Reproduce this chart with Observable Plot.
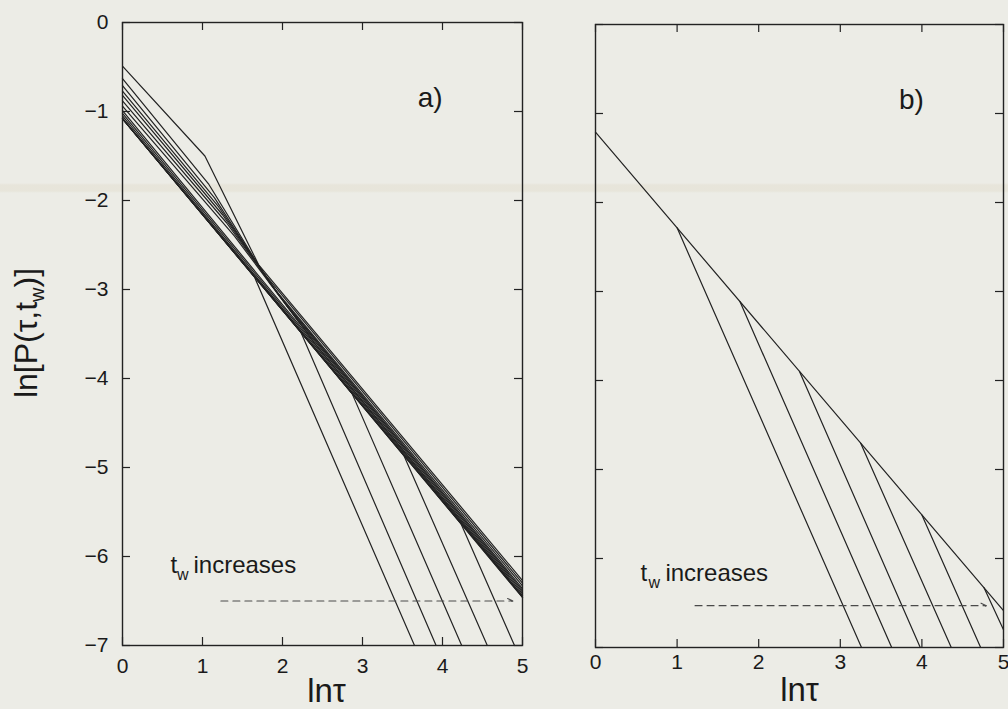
<!DOCTYPE html>
<html><head><meta charset="utf-8">
<script src="https://cdn.jsdelivr.net/npm/d3@7"></script>
<script src="https://cdn.jsdelivr.net/npm/@observablehq/plot@0.6"></script>
<style>
html,body{margin:0;padding:0;}
body{width:1008px;height:709px;overflow:hidden;position:relative;
  background:linear-gradient(to bottom, rgba(0,0,0,0) 183px, rgba(214,204,178,0.22) 185px, rgba(214,204,178,0.22) 191px, rgba(0,0,0,0) 193px), #ecece6;
  font-family:"Liberation Sans",Arial,Helvetica,sans-serif;}
#a{position:absolute;left:0;top:0;}
#b{position:absolute;left:540px;top:0;}
svg{overflow:visible;}
</style></head><body>
<div id="a"></div><div id="b"></div>
<script>
// ---- tick values ----
const xTicks = [0, 1, 2, 3, 4, 5];
const yTicks = [0, -1, -2, -3, -4, -5, -6, -7];

// ---- panel a) curves: each is a list of [lnτ, ln P] break points read from the picture ----
const linesA = [
  [[0, -0.49], [1.03, -1.50], [1.70, -2.72], [5, -6.27]],
  [[0, -0.63], [1.08, -1.82], [1.75, -2.80], [5, -6.30]],
  [[0, -0.71], [1.15, -1.97], [1.85, -2.94], [5, -6.33]],
  [[0, -0.77], [1.20, -2.07], [1.95, -3.06], [5, -6.36]],
  [[0, -0.82], [1.25, -2.16], [2.05, -3.18], [5, -6.38]],
  [[0, -0.88], [1.30, -2.25], [2.20, -3.36], [5, -6.40]],
  [[0, -0.94], [1.40, -2.40], [2.40, -3.60], [5, -6.42]],
  [[0, -0.99], [5, -6.44]],
  [[0, -1.02], [5, -6.45]],
  [[0, -1.05], [5, -6.46]],
  [[0, -1.08], [5, -6.46]],
  [[0, -1.08], [1.65, -2.86], [3.65, -7]],
  [[0, -1.08], [2.23, -3.48], [3.92, -7]],
  [[0, -1.08], [2.87, -4.17], [4.24, -7]],
  [[0, -1.08], [3.52, -4.87], [4.56, -7]],
  [[0, -1.08], [4.23, -5.63], [4.90, -7]]
];

// ---- panel b) curves: master line and the branches that leave it ----
const linesB = [
  [[0, -1.21], [5, -6.585]],
  [[1.00, -2.285], [3.26, -7]],
  [[1.77, -3.113], [3.63, -7]],
  [[2.50, -3.898], [3.98, -7]],
  [[3.25, -4.704], [4.36, -7]],
  [[4.00, -5.510], [4.72, -7]],
  [[4.76, -6.327], [5, -6.80]]
];

// ---- annotations ----
const panelLabels = ["a)", "b)"];
const xTitle = "lnτ";
const yTitleMain = "ln[P(τ,t", yTitleSub = "w", yTitleEnd = ")]";
const noteT = "t", noteSub = "w", noteRest = "increases";
const arrowA = {x1: 1.23, x2: 4.88, y: -6.5};
const arrowB = {x1: 1.22, x2: 4.79, y: -6.53};

const ink = "#222222";
const fmt = d3.format("d");

function rows(lines) {
  return lines.flatMap((pts, i) => pts.map(([x, y]) => ({x, y, id: i})));
}

function panel(o) {
  const pxX = (o.width - o.marginLeft - o.marginRight) / 5;
  const pxY = (709 - o.marginTop - o.marginBottom) / 7;
  const tx = 8 / pxX, ty = 8 / pxY;
  const marks = [
    Plot.line(rows(o.lines), {x: "x", y: "y", z: "id", stroke: ink, strokeWidth: 1.2, strokeLinejoin: "round"}),
    // inward ticks on all four sides
    Plot.ruleX(xTicks, {x: d => d, y1: -7, y2: -7 + ty, stroke: ink, strokeWidth: 1.2}),
    Plot.ruleX(xTicks, {x: d => d, y1: 0, y2: -ty, stroke: ink, strokeWidth: 1.2}),
    Plot.ruleY(yTicks, {y: d => d, x1: 0, x2: tx, stroke: ink, strokeWidth: 1.2}),
    Plot.ruleY(yTicks, {y: d => d, x1: 5, x2: 5 - tx, stroke: ink, strokeWidth: 1.2}),
    Plot.frame({stroke: ink, strokeWidth: 1.4}),
    Plot.axisX(xTicks, {anchor: "bottom", tickSize: 0, tickPadding: o.xPad, fontSize: 21, label: null, tickFormat: fmt, fill: "#1a1a1a"}),
    Plot.text([o.label], {x: o.labelX, y: -0.947, textAnchor: "start", lineAnchor: "bottom", fontSize: 28, fill: "#1a1a1a"}),
    Plot.text([xTitle], {x: o.titleX, y: -7, dy: o.titleDy, lineAnchor: "bottom", fontSize: 33, fill: "#1a1a1a"}),
    Plot.text([noteT], {x: o.noteX, y: o.noteY, textAnchor: "start", lineAnchor: "bottom", fontSize: 24, fill: "#1a1a1a"}),
    Plot.text([noteSub], {x: o.noteX, y: o.noteY, dx: o.subDx, dy: 7, textAnchor: "start", lineAnchor: "bottom", fontSize: 16, fill: "#1a1a1a"}),
    Plot.text([noteRest], {x: o.noteX, y: o.noteY, dx: o.restDx, textAnchor: "start", lineAnchor: "bottom", fontSize: 24, fill: "#1a1a1a"}),
    Plot.arrow([o.arrow], {x1: "x1", x2: "x2", y1: "y", y2: "y", stroke: "#4a4a4a", strokeWidth: 1.1, strokeDasharray: "7,5", headLength: 8, headAngle: 50})
  ];
  if (o.showY) marks.push(Plot.axisY(yTicks, {anchor: "left", tickSize: 0, tickPadding: 14, fontSize: 21, label: null, tickFormat: fmt, fill: "#1a1a1a"}));
  return Plot.plot({
    width: o.width, height: 709,
    marginLeft: o.marginLeft, marginRight: o.marginRight, marginTop: o.marginTop, marginBottom: o.marginBottom,
    x: {domain: [0, 5]},
    y: {domain: [-7, 0], axis: o.showY ? undefined : null},
    style: {background: "transparent", fontFamily: "'Liberation Sans', Arial, Helvetica, sans-serif", color: "#1a1a1a", overflow: "visible"},
    marks
  });
}

const plotA = panel({
  lines: linesA, width: 530, marginLeft: 122, marginRight: 8, marginTop: 22, marginBottom: 64,
  showY: true, label: panelLabels[0], labelX: 3.69, titleX: 2.55, titleDy: 56, xPad: 13,
  noteX: 0.6, noteY: -6.19, subDx: 6.5, restDx: 23, arrow: arrowA
});
const plotB = panel({
  lines: linesB, width: 468, marginLeft: 55, marginRight: 5, marginTop: 24, marginBottom: 62,
  showY: false, label: panelLabels[1], labelX: 3.72, titleX: 2.5, titleDy: 53, xPad: 7,
  noteX: 0.55, noteY: -6.25, subDx: 8, restDx: 25, arrow: arrowB
});
document.getElementById("a").appendChild(plotA);
document.getElementById("b").appendChild(plotB);

// rotated y-axis title with subscript
const t = d3.select(plotA).append("text")
  .attr("transform", "translate(37,333) rotate(-90)")
  .attr("text-anchor", "middle")
  .attr("font-size", 32)
  .attr("fill", "#1a1a1a");
t.append("tspan").text(yTitleMain);
t.append("tspan").attr("font-size", 20).attr("dy", 7).text(yTitleSub);
t.append("tspan").attr("dy", -7).text(yTitleEnd);
</script>
</body></html>
